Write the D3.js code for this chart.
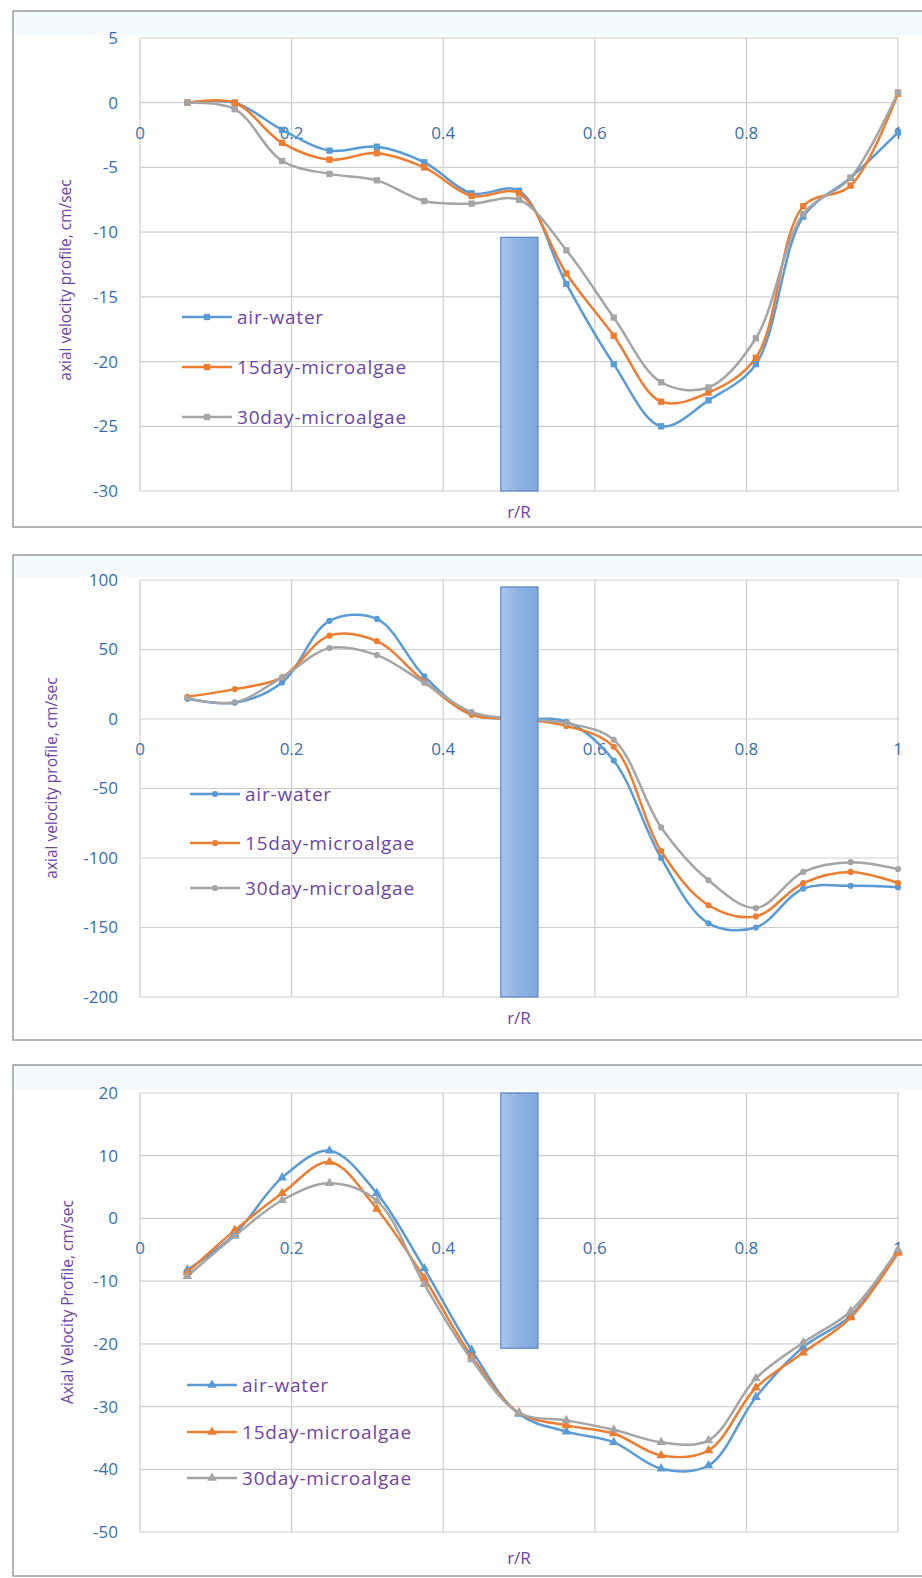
<!DOCTYPE html>
<html>
<head>
<meta charset="utf-8">
<script src="https://cdn.jsdelivr.net/npm/d3@7/dist/d3.min.js"></script>
<style>
body { margin: 0; background: #fff; }
text { font-family: "Open Sans", sans-serif; }
</style>
</head>
<body>
<div id="chart"></div>
<script>
// shared data
var r_over_R = [0.0625, 0.125, 0.1875, 0.25, 0.3125, 0.375, 0.4375, 0.5, 0.5625, 0.625, 0.6875, 0.75, 0.8125, 0.875, 0.9375, 1];
var series_names = ["air-water", "15day-microalgae", "30day-microalgae"];
var x_ticks = [0, 0.2, 0.4, 0.6, 0.8, 1];
var x_tick_labels = ["0", "0.2", "0.4", "0.6", "0.8", "1"];

// top chart
var top_air_water = [0, 0, -2.1, -3.7, -3.4, -4.6, -7.0, -6.8, -14.0, -20.2, -25.0, -23.0, -20.2, -8.8, -5.8, -2.3];
var top_15day = [0, 0, -3.1, -4.4, -3.9, -5.0, -7.2, -7.0, -13.2, -18.0, -23.1, -22.4, -19.7, -8.0, -6.4, 0.7];
var top_30day = [0, -0.5, -4.5, -5.5, -6.0, -7.6, -7.8, -7.5, -11.4, -16.6, -21.6, -22.0, -18.2, -8.6, -5.8, 0.8];
var top_y_ticks = [5, 0, -5, -10, -15, -20, -25, -30];
var top_bar = [0.476, 0.525, -10.4, -30];

// middle chart
var mid_air_water = [14.6, 11.7, 26.3, 70.6, 72, 30.7, 3.6, 0, -2, -30, -100, -147, -150, -122, -120, -121];
var mid_15day = [16, 21.5, 30, 60, 56, 27, 3, 0, -5, -20, -95, -134, -142, -118, -110, -118];
var mid_30day = [15, 12, 30, 51, 46, 26, 5, 0, -3, -15, -78, -116, -136, -110, -103, -108];
var mid_y_ticks = [100, 50, 0, -50, -100, -150, -200];
var mid_bar = [0.476, 0.525, 95, -200];

// bottom chart
var bot_air_water = [-8.2, -2.5, 6.5, 10.8, 4.0, -8.0, -21.0, -31.2, -34.0, -35.7, -39.9, -39.4, -28.5, -20.5, -15.5, -5.2];
var bot_15day = [-8.6, -1.9, 4.0, 9.0, 1.5, -9.5, -22.0, -31.0, -33.0, -34.3, -37.8, -37.0, -27.0, -21.4, -15.8, -5.5];
var bot_30day = [-9.2, -2.8, 2.9, 5.6, 2.8, -10.5, -22.5, -31.0, -32.2, -33.7, -35.7, -35.4, -25.5, -19.8, -14.8, -5.0];
var bot_y_ticks = [20, 10, 0, -10, -20, -30, -40, -50];
var bot_bar = [0.476, 0.525, 20, -20.7];

var colors = ["#5b9bd5", "#ed7d31", "#a5a5a5"];
var tick_color = "#3a6fae";
var title_color = "#6d45a8";

var svg = d3.select("#chart").append("svg").attr("width", 922).attr("height", 1578);

var defs = svg.append("defs");
var grad = defs.append("linearGradient").attr("id", "bargrad").attr("x1", "0%").attr("x2", "100%");
grad.append("stop").attr("offset", "0%").attr("stop-color", "#a9c5ec");
grad.append("stop").attr("offset", "50%").attr("stop-color", "#8eb2e0");
grad.append("stop").attr("offset", "100%").attr("stop-color", "#7ea8e0");

function draw_panel(p) {

    var g = svg.append("g");

    g.append("rect").attr("x", 13).attr("y", p.frame_top).attr("width", 930).attr("height", p.frame_bottom - p.frame_top)
    .style("fill", "#fff").style("stroke", "#9c9c9c").style("stroke-width", 1.5);
    g.append("rect").attr("x", 14).attr("y", p.frame_top + 1).attr("width", 910).attr("height", p.top - p.frame_top - 4)
    .style("fill", "#f4f9fd");

    var x = d3.scaleLinear().domain([0, 1]).range([140, 898]);
    var y = d3.scaleLinear().domain([p.y_ticks[p.y_ticks.length - 1], p.y_ticks[0]]).range([p.bottom, p.top]);

    // gridlines
    g.append("g").selectAll("line").data(p.y_ticks).join("line")
    .attr("x1", 140).attr("x2", 898).attr("y1", d => y(d)).attr("y2", d => y(d))
    .style("stroke", "#cfcfcf").style("stroke-width", 1.2);
    g.append("g").selectAll("line").data(x_ticks).join("line")
    .attr("x1", d => x(d)).attr("x2", d => x(d)).attr("y1", p.top).attr("y2", p.bottom)
    .style("stroke", "#cfcfcf").style("stroke-width", 1.2);

    // y tick labels
    g.append("g").selectAll("text").data(p.y_ticks).join("text")
    .attr("x", 118).attr("y", d => y(d)).attr("dy", "0.35em").attr("text-anchor", "end")
    .attr("font-size", 17).style("fill", tick_color).text(d => d);

    // x tick labels along the zero line
    g.append("g").selectAll("text").data(x_ticks).join("text")
    .attr("x", d => x(d)).attr("y", y(0) + 30).attr("dy", "0.35em").attr("text-anchor", "middle")
    .attr("font-size", 17).style("fill", tick_color).text((d, i) => x_tick_labels[i]);

    // series
    var line = d3.line().x((d, i) => x(r_over_R[i])).y(d => y(d)).curve(d3.curveCatmullRom.alpha(0.5));
    p.series.forEach(function(vals, k) {
        g.append("path").datum(vals).attr("d", line)
        .style("fill", "none").style("stroke", colors[k]).style("stroke-width", 2.5);
    });
    var sym = d3.symbol().type(p.symbol).size(p.symbol_size);
    p.series.forEach(function(vals, k) {
        g.append("g").selectAll("path").data(vals).join("path")
        .attr("transform", (d, i) => "translate(" + x(r_over_R[i]) + "," + y(d) + ")")
        .attr("d", sym).style("fill", colors[k]);
    });

    // shaded column
    g.append("rect").attr("x", x(p.bar[0])).attr("width", x(p.bar[1]) - x(p.bar[0]))
    .attr("y", y(p.bar[2])).attr("height", y(p.bar[3]) - y(p.bar[2]))
    .style("fill", "url(#bargrad)").style("stroke", "#5a86c4").style("stroke-width", 1.2);

    // legend
    series_names.forEach(function(name, k) {
        var ly = p.legend_y[k];
        g.append("line").attr("x1", p.legend_x).attr("x2", p.legend_x + 50).attr("y1", ly).attr("y2", ly)
        .style("stroke", colors[k]).style("stroke-width", 2.5);
        g.append("path").attr("transform", "translate(" + (p.legend_x + 25) + "," + ly + ")")
        .attr("d", sym).style("fill", colors[k]);
        g.append("text").attr("x", p.legend_x + 55).attr("y", ly).attr("dy", "0.35em")
        .attr("font-size", 19).attr("letter-spacing", 0.8).style("fill", title_color).text(name);
    });

    // axis titles
    g.append("text").attr("x", 519).attr("y", p.xlabel_y).attr("dy", "0.35em").attr("text-anchor", "middle")
    .attr("font-size", 17).style("fill", title_color).text("r/R");
    g.append("text").attr("transform", "translate(" + p.ytitle_x + "," + p.ytitle_y + ") rotate(-90)")
    .attr("text-anchor", "middle").attr("dy", "0.35em")
    .attr("font-size", 15.5).style("fill", title_color).text(p.ytitle);
}

draw_panel({
    frame_top: 11, frame_bottom: 527, top: 38, bottom: 491,
    y_ticks: top_y_ticks, series: [top_air_water, top_15day, top_30day], bar: top_bar,
    symbol: d3.symbolSquare, symbol_size: 40,
    legend_x: 182, legend_y: [317, 367, 417],
    xlabel_y: 512, ytitle_x: 66, ytitle_y: 280, ytitle: "axial velocity profile, cm/sec"
});

draw_panel({
    frame_top: 555, frame_bottom: 1040, top: 580, bottom: 997,
    y_ticks: mid_y_ticks, series: [mid_air_water, mid_15day, mid_30day], bar: mid_bar,
    symbol: d3.symbolCircle, symbol_size: 30,
    legend_x: 190, legend_y: [794, 843, 888],
    xlabel_y: 1018, ytitle_x: 52, ytitle_y: 778, ytitle: "axial velocity profile, cm/sec"
});

draw_panel({
    frame_top: 1065, frame_bottom: 1576, top: 1093, bottom: 1532,
    y_ticks: bot_y_ticks, series: [bot_air_water, bot_15day, bot_30day], bar: bot_bar,
    symbol: d3.symbolTriangle, symbol_size: 40,
    legend_x: 187, legend_y: [1385, 1432, 1478],
    xlabel_y: 1558, ytitle_x: 68, ytitle_y: 1302, ytitle: "Axial Velocity Profile, cm/sec"
});
</script>
</body>
</html>
